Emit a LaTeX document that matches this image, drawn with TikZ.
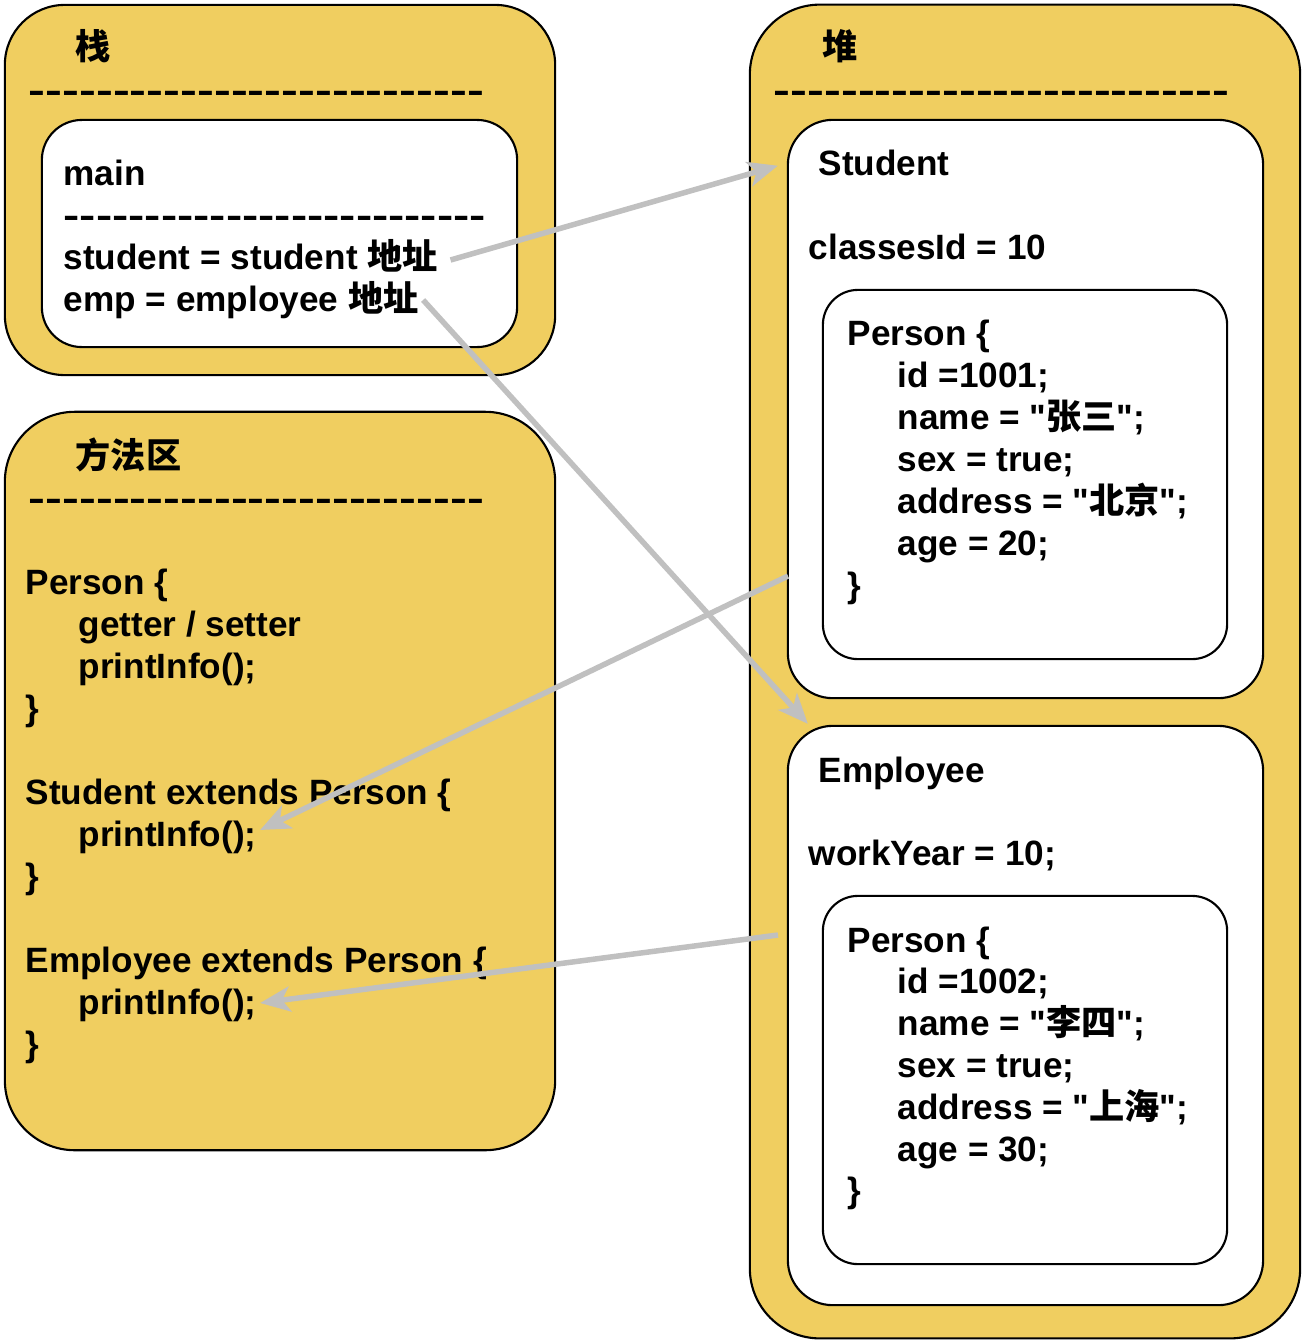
\documentclass[tikz,border=0pt]{standalone}
\usepackage{fontspec}
\setmainfont{Liberation Sans}[Ligatures=TeXOff]
\newfontfamily\cjk{Noto Sans CJK SC}
\usetikzlibrary{arrows.meta}
\definecolor{zone}{RGB}{240,206,96}
\definecolor{refgray}{RGB}{192,192,192}
\newcommand\zh[1]{{\cjk #1}}
\newcommand\dashrow[2]{\resizebox{#1}{\height}{\foreach \k in {1,...,#2}{-}}}

\begin{document}
\begin{tikzpicture}[x=0.01cm,y=-0.01cm,
  area/.style={draw,line width=0.6pt,fill=zone,rounded corners=#1,inner sep=0,outer sep=0},
  obj/.style={draw,line width=0.6pt,fill=white,rounded corners=#1,inner sep=0,outer sep=0},
  txt/.style={anchor=base west,inner sep=0,font=\bfseries\fontsize{10}{12}\selectfont},
  ref/.style={draw=refgray,line width=0.055cm,-{Stealth[length=0.3cm,width=0.25cm,inset=0.08cm]}}]
\useasboundingbox (0,0) rectangle (1304,1342);

% stack
\node[area=0.6cm,minimum width=5.5cm,minimum height=3.7cm] (stack) at (280,190) {};
\node[txt] (stackTitle) at (75,59) {\zh{栈}};
\node[txt] (stackLine) at (28,102) {\dashrow{4.55cm}{27}};
\node[obj=0.4cm,minimum width=4.75cm,minimum height=2.27cm] (main) at (279.5,233.5) {};
\node[txt] (mainName) at (63,185) {main};
\node[txt] (mainLine) at (63,227) {\dashrow{4.22cm}{26}};
\node[txt] (stuRef) at (63,269) {student = student \zh{地址}};
\node[txt] (empRef) at (63,311) {emp = employee \zh{地址}};

% method area
\node[area=0.7cm,minimum width=5.5cm,minimum height=7.38cm] (method) at (280,781) {};
\node[txt] (methodTitle) at (75,468) {\zh{方法区}};
\node[txt] (methodLine) at (28,510) {\dashrow{4.55cm}{27}};
\foreach \xx/\yy/\t [count=\i] in {25/582/{Person \{}, 78/624/{getter / setter}, 78/666/{printInfo();}, 25/708/\},
  25/792/{Student extends Person \{}, 78/834/{printInfo();}, 25/876/\},
  25/960/{Employee extends Person \{}, 78/1002/{printInfo();}, 25/1044/\}}
  \node[txt] (m\i) at (\xx,\yy+12) {\t};

% heap
\node[area=0.7cm,minimum width=5.5cm,minimum height=13.33cm] (heap) at (1025,671.5) {};
\node[txt] (heapTitle) at (822,59) {\zh{堆}};
\node[txt] (heapLine) at (773,102) {\dashrow{4.55cm}{27}};

\node[obj=0.45cm,minimum width=4.75cm,minimum height=5.78cm] (stuObj) at (1025.5,409) {};
\node[txt] (stuName) at (818,175) {Student};
\node[txt] (stuClass) at (808,259) {classesId = 10};
\node[obj=0.35cm,minimum width=4.04cm,minimum height=3.69cm] (stuPerson) at (1025,474.5) {};
\foreach \xx/\t [count=\i from 0] in {847/{Person \{}, 897/{id =1001;}, 897/{name = "\zh{张三}";}, 897/{sex = true;},
  897/{address = "\zh{北京}";}, 897/{age = 20;}, 847/\}}
  \node[txt] (sp\i) at (\xx,333+42*\i+12) {\t};

\node[obj=0.45cm,minimum width=4.75cm,minimum height=5.79cm] (empObj) at (1025.5,1015.5) {};
\node[txt] (empName) at (818,782) {Employee};
\node[txt] (empYear) at (808,865) {workYear = 10;};
\node[obj=0.35cm,minimum width=4.04cm,minimum height=3.68cm] (empPerson) at (1025,1080) {};
\foreach \xx/\t [count=\i from 0] in {847/{Person \{}, 897/{id =1002;}, 897/{name = "\zh{李四}";}, 897/{sex = true;},
  897/{address = "\zh{上海}";}, 897/{age = 30;}, 847/\}}
  \node[txt] (ep\i) at (\xx,940+41.8*\i+12) {\t};

% references
\coordinate (stuOut) at (788,576);
\coordinate (empOut) at (778,935);
\draw[ref] ([xshift=0.12cm,yshift=0.09cm]stuRef.base east) -- ([xshift=-0.1cm]stuObj.west |- stuName.mid);
\draw[ref] ([xshift=0.04cm,yshift=0.11cm]empRef.base east) -- ([xshift=0.2cm,yshift=0.02cm]empObj.north west);
\draw[ref] (stuOut) -- ([xshift=0.03cm,yshift=0.16cm]m6.base east);
\draw[ref] (empOut) -- ([xshift=0.03cm,yshift=0.11cm]m9.base east);
\end{tikzpicture}
\end{document}
